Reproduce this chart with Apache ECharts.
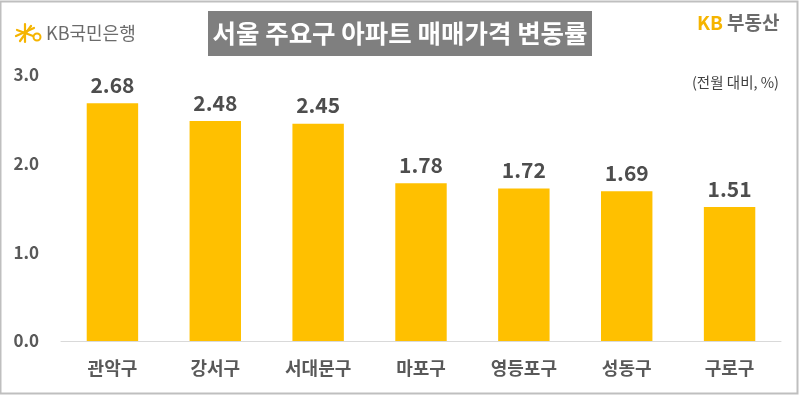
<!DOCTYPE html>
<html><head><meta charset="utf-8">
<script src="https://cdn.jsdelivr.net/npm/echarts@6/dist/echarts.min.js"></script>
<style>html,body{margin:0;padding:0;background:#fff}#c{width:800px;height:396px}</style>
</head><body><div id="c"></div>
<script>
const categories = ['관악구','강서구','서대문구','마포구','영등포구','성동구','구로구'];
const values = [2.68, 2.48, 2.45, 1.78, 1.72, 1.69, 1.51];
const yTicks = [0, 1, 2, 3];
const titleText = '서울 주요구 아파트 매매가격 변동률';
const unitText = '(전월 대비, %)';

const FONT = '"Noto Sans CJK KR", "Noto Sans", sans-serif';
const YEL = '#f5b400';
const chart = echarts.init(document.getElementById('c'), null, {renderer: 'canvas'});
const starLines = [[17,30,33,36],[20,41,31,26],[25,24,25,42],[16,36,34,28]].map(l => ({
  type: 'line', shape: {x1: l[0], y1: l[1], x2: l[2], y2: l[3]}, style: {stroke: YEL, lineWidth: 2.2, lineCap: 'round'}, silent: true
}));
chart.setOption({
  backgroundColor: '#fff',
  animation: false,
  grid: {left: 61, right: 19, top: 75, bottom: 55},
  xAxis: {
    type: 'category', data: categories,
    axisLine: {lineStyle: {color: '#d9d9d9', width: 1}},
    axisTick: {show: false},
    axisLabel: {color: '#595959', fontSize: 18, fontWeight: 'bold', fontFamily: FONT, margin: 18}
  },
  yAxis: {
    type: 'value', min: yTicks[0], max: yTicks[yTicks.length-1], interval: 1,
    axisLine: {show: false}, axisTick: {show: false}, splitLine: {show: false},
    axisLabel: {color: '#595959', fontSize: 17, fontWeight: 'bold', fontFamily: FONT, margin: 22,
      formatter: v => v.toFixed(1)}
  },
  series: [{
    type: 'bar', data: values, barWidth: '50%',
    itemStyle: {color: '#FFC000'},
    label: {show: true, position: 'top', distance: 8, color: '#4d4d4d', fontSize: 21,
      fontWeight: 'bold', fontFamily: FONT, formatter: p => p.value.toFixed(2)}
  }],
  graphic: [
    {type: 'rect', shape: {x: 0.5, y: 1.5, width: 797, height: 392}, style: {fill: 'none', stroke: '#bfbfbf', lineWidth: 2}, silent: true},
    {type: 'rect', shape: {x: 208, y: 11, width: 384, height: 45}, style: {fill: '#7f7f7f'}},
    {type: 'text', x: 400, y: 33.5, style: {text: titleText, fill: '#fff', fontSize: 25.5, fontWeight: 'bold', fontFamily: FONT, align: 'center', verticalAlign: 'middle'}},
    ...starLines,
    {type: 'arc', shape: {cx: 37, cy: 37, r: 3.5, startAngle: 0, endAngle: Math.PI * 2}, style: {stroke: YEL, fill: 'none', lineWidth: 2}, silent: true},
    {type: 'text', x: 46, y: 33, style: {text: 'KB국민은행', fill: '#6b6b6b', fontSize: 18, fontFamily: FONT, verticalAlign: 'middle'}},
    {type: 'text', x: 697, y: 23, style: {text: 'KB', fill: YEL, fontSize: 19, fontWeight: 'bold', fontFamily: FONT, verticalAlign: 'middle'}},
    {type: 'text', x: 727, y: 23, style: {text: '부동산', fill: '#6b6b6b', fontSize: 19, fontWeight: 'bold', fontFamily: FONT, verticalAlign: 'middle'}},
    {type: 'text', x: 779, y: 82, style: {text: unitText, fill: '#404040', fontSize: 14.5, fontFamily: FONT, align: 'right', verticalAlign: 'middle'}}
  ]
});
</script></body></html>
